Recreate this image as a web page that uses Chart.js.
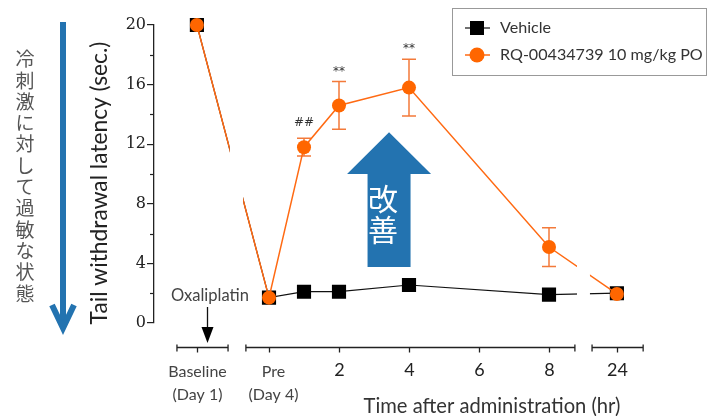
<!DOCTYPE html>
<html><head><meta charset="utf-8">
<script src="https://cdn.jsdelivr.net/npm/chart.js@4.4.1/dist/chart.umd.min.js"></script>
<style>html,body{margin:0;padding:0;background:#fff;}#wrap{width:708px;height:416px;}</style>
</head><body><div id="wrap"><canvas id="c" width="708" height="416"></canvas></div>
<script>
// ---- data ----
const timePoints = ['Baseline', 'Pre', 1, 2, 4, 8, 24];
const vehicleMean = [20, 1.7, 2.1, 2.1, 2.55, 1.9, 2.0];
const rqMean = [20, 1.7, 11.8, 14.6, 15.8, 5.1, 1.95];
const rqSem = [0, 0, 0.6, 1.6, 1.9, 1.3, 0];
const sigMarks = ['', '', '##', '**', '**', '', ''];
const seriesNames = ['Vehicle', 'RQ-00434739 10 mg/kg PO'];
const yMajorTicks = [0, 4, 8, 12, 16, 20];
const xTickLabels = ['Baseline', 'Pre', 2, 4, 6, 8, 24];
const xSubLabels = {'Baseline': '(Day 1)', 'Pre': '(Day 4)'};
const xTitle = 'Time after administration (hr)';
const yTitle = 'Tail withdrawal latency (sec.)';
const sideNote = '冷刺激に対して過敏な状態';
const arrowNote = '改善';
const doseNote = 'Oxaliplatin';

// ---- broken x axis: baseline and 24 h sit in their own short segments ----
function axisPos(t) {
  if (t === 'Baseline') return -2.06;
  if (t === 'Pre') return 0;
  if (t <= 8) return t;
  return 9.94; // 24 h after the break
}
const axisSegments = [[-2.63, -1.17], [-0.66, 8.74], [9.23, 10.69]];
const lineBreaks = [[-1.12, -0.74], [8.8, 9.17]];

const pts = arr => timePoints.map((t, i) => ({x: axisPos(t), y: arr[i]}));
const ORANGE = '#ff6a13';
const BLUE = '#2373b0';
const LAT = 'Lato, "Open Sans", sans-serif';

function fitFont(ctx, text, family, width, weight) {
  ctx.font = (weight || '') + ' 20px ' + family;
  const w = ctx.measureText(text).width;
  return (weight || '') + ' ' + (20 * width / w).toFixed(2) + 'px ' + family;
}

const decor = {
  id: 'decor',
  beforeDatasetsDraw(chart) {
    const {ctx, chartArea: a, scales: {x, y}} = chart;
    // error bars
    ctx.save();
    ctx.strokeStyle = '#f37a3a';
    ctx.lineWidth = 1.5;
    timePoints.forEach((t, i) => {
      if (!rqSem[i]) return;
      const px = x.getPixelForValue(axisPos(t));
      const top = y.getPixelForValue(rqMean[i] + rqSem[i]);
      const bot = y.getPixelForValue(rqMean[i] - rqSem[i]);
      ctx.beginPath();
      ctx.moveTo(px, top); ctx.lineTo(px, bot);
      ctx.moveTo(px - 7, top); ctx.lineTo(px + 7, top);
      ctx.moveTo(px - 7, bot); ctx.lineTo(px + 7, bot);
      ctx.stroke();
    });
    ctx.restore();
    // clip out the axis breaks for the lines
    ctx.save();
    ctx.beginPath();
    ctx.rect(0, 0, chart.width, chart.height);
    lineBreaks.forEach(([a0, a1]) => {
      const x0 = x.getPixelForValue(a0), x1 = x.getPixelForValue(a1);
      ctx.rect(x0, a.top - 20, x1 - x0, a.bottom - a.top + 40);
    });
    ctx.clip('evenodd');
  },
  afterDatasetsDraw(chart) {
    chart.ctx.restore();
  },
  afterDraw(chart) {
    const {ctx, chartArea: a, scales: {x, y}} = chart;
    ctx.save();
    // minor y ticks
    ctx.strokeStyle = '#222';
    ctx.lineWidth = 1.2;
    for (let v = 2; v < 20; v += 4) {
      const py = Math.round(y.getPixelForValue(v)) + 0.5;
      ctx.beginPath(); ctx.moveTo(a.left - 4, py); ctx.lineTo(a.left, py); ctx.stroke();
    }
    // y title
    ctx.save();
    ctx.translate(100, 183);
    ctx.rotate(-Math.PI / 2);
    ctx.font = fitFont(ctx, yTitle, LAT, 283);
    ctx.fillStyle = '#222';
    ctx.textAlign = 'center'; ctx.textBaseline = 'middle';
    ctx.fillText(yTitle, 0, 0);
    ctx.restore();

    // broken x axis
    const axY = 347.5;
    ctx.strokeStyle = '#222';
    ctx.lineWidth = 1.3;
    axisSegments.forEach(([s0, s1]) => {
      const x0 = x.getPixelForValue(s0), x1 = x.getPixelForValue(s1);
      ctx.beginPath();
      ctx.moveTo(x0, axY); ctx.lineTo(x1, axY);
      ctx.moveTo(x0, axY - 3); ctx.lineTo(x0, axY + 4);
      ctx.moveTo(x1, axY - 3); ctx.lineTo(x1, axY + 4);
      ctx.stroke();
    });
    xTickLabels.forEach(t => {
      const px = Math.round(x.getPixelForValue(axisPos(t))) + 0.5;
      ctx.beginPath(); ctx.moveTo(px, axY); ctx.lineTo(px, axY + 5); ctx.stroke();
      ctx.textAlign = 'center'; ctx.textBaseline = 'middle';
      if (typeof t === 'number') {
        ctx.font = '18px ' + LAT; ctx.fillStyle = '#222';
        ctx.fillText(String(t), px, 370);
      } else {
        ctx.font = '16px ' + LAT; ctx.fillStyle = '#444';
        const off = t === 'Pre' ? 4 : 0;
        ctx.fillText(t, px + off, 372);
        ctx.fillText(xSubLabels[t], px + off, 395);
      }
    });
    ctx.font = fitFont(ctx, xTitle, LAT, 257);
    ctx.fillStyle = '#333';
    ctx.textAlign = 'center'; ctx.textBaseline = 'middle';
    ctx.fillText(xTitle, 492, 406);

    // significance marks
    ctx.font = '12px "DejaVu Sans", sans-serif';
    ctx.fillStyle = '#333';
    timePoints.forEach((t, i) => {
      if (!sigMarks[i]) return;
      const px = x.getPixelForValue(axisPos(t));
      const py = y.getPixelForValue(rqMean[i] + rqSem[i]);
      ctx.fillText(sigMarks[i], px, py - (sigMarks[i] === '##' ? 15 : 10));
    });

    // oxaliplatin note + arrow
    ctx.font = fitFont(ctx, doseNote, LAT, 78);
    ctx.fillStyle = '#444';
    ctx.fillText(doseNote, 210, 296);
    const bx = Math.round(x.getPixelForValue(axisPos('Baseline'))) + 10.5;
    ctx.strokeStyle = '#111'; ctx.lineWidth = 1.3;
    ctx.beginPath(); ctx.moveTo(bx, 307); ctx.lineTo(bx, 330); ctx.stroke();
    ctx.fillStyle = '#000';
    ctx.beginPath(); ctx.moveTo(bx - 6, 327); ctx.lineTo(bx + 6, 327); ctx.lineTo(bx, 343); ctx.closePath(); ctx.fill();

    // big "improvement" arrow
    const ax = x.getPixelForValue(3.43);
    const tipY = y.getPixelForValue(12.8), headY = y.getPixelForValue(10.0), baseY = y.getPixelForValue(3.76);
    ctx.fillStyle = BLUE;
    ctx.beginPath();
    ctx.moveTo(ax, tipY);
    ctx.lineTo(ax + 42, headY); ctx.lineTo(ax + 21.5, headY); ctx.lineTo(ax + 21.5, baseY);
    ctx.lineTo(ax - 21.5, baseY); ctx.lineTo(ax - 21.5, headY); ctx.lineTo(ax - 42, headY);
    ctx.closePath(); ctx.fill();
    ctx.fillStyle = '#fff';
    ctx.font = '30px "Noto Sans CJK JP"';
    ctx.textAlign = 'center'; ctx.textBaseline = 'middle';
    [...arrowNote].forEach((ch, k) => ctx.fillText(ch, ax - 6, 199 + k * 31));

    // left vertical note and down arrow
    ctx.font = '19px "Noto Sans CJK JP"';
    ctx.fillStyle = '#555';
    [...sideNote].forEach((ch, k) => ctx.fillText(ch, 25, 59 + k * 21.3));
    ctx.strokeStyle = BLUE; ctx.lineWidth = 6; ctx.lineCap = 'butt'; ctx.lineJoin = 'miter';
    ctx.beginPath(); ctx.moveTo(63, 22); ctx.lineTo(63, 326); ctx.stroke();
    ctx.beginPath(); ctx.moveTo(52, 305); ctx.lineTo(63, 328); ctx.lineTo(74, 305); ctx.stroke();

    // legend
    ctx.strokeStyle = '#999'; ctx.lineWidth = 1;
    ctx.strokeRect(452.5, 8.5, 254, 67);
    const lf = fitFont(ctx, seriesNames[1], LAT, 203);
    chart.data.datasets.forEach((ds, k) => {
      const ly = 28 + k * 27;
      ctx.strokeStyle = ds.borderColor; ctx.lineWidth = ds.borderWidth;
      ctx.beginPath(); ctx.moveTo(465, ly); ctx.lineTo(490, ly); ctx.stroke();
      ctx.fillStyle = ds.pointBackgroundColor;
      if (ds.pointStyle === 'rect') ctx.fillRect(470, ly - 7, 14, 14);
      else { ctx.beginPath(); ctx.arc(477, ly, 7.5, 0, Math.PI * 2); ctx.fill(); }
      ctx.font = lf; ctx.fillStyle = '#333';
      ctx.textAlign = 'left'; ctx.textBaseline = 'middle';
      ctx.fillText(ds.label, 500, ly);
    });
    ctx.restore();
  }
};

new Chart(document.getElementById('c').getContext('2d'), {
  type: 'line',
  data: {
    datasets: [
      {label: seriesNames[0], data: pts(vehicleMean), borderColor: '#111', borderWidth: 1.2,
       pointStyle: 'rect', pointRadius: 10, pointBackgroundColor: '#000', pointBorderColor: '#000',
       pointBorderWidth: 0, order: 2, clip: false, tension: 0},
      {label: seriesNames[1], data: pts(rqMean), borderColor: ORANGE, borderWidth: 1.5,
       pointStyle: 'circle', pointRadius: 7, pointBackgroundColor: '#ff6600', pointBorderColor: '#ff6600',
       pointBorderWidth: 0, order: 1, clip: false, tension: 0}
    ]
  },
  options: {
    responsive: false, animation: false, devicePixelRatio: 1,
    layout: {padding: {top: 25, bottom: 93, right: 48, left: 0}},
    plugins: {legend: {display: false}, tooltip: {enabled: false}},
    scales: {
      x: {type: 'linear', min: (154 - 269) / 35, max: (660 - 269) / 35, display: false},
      y: {
        min: 0, max: 20,
        afterFit: s => { s.width = 154; },
        ticks: {stepSize: 2, callback: v => yMajorTicks.includes(v) ? String(v) : '',
                font: {family: 'DejaVu Serif', size: 16}, color: '#222', padding: 1},
        grid: {drawOnChartArea: false, tickLength: 7, lineWidth: 1.2,
               color: c => (c.tick && yMajorTicks.includes(c.tick.value)) ? '#222' : 'rgba(0,0,0,0)'},
        border: {color: '#222', width: 1.3}
      }
    }
  },
  plugins: [decor]
});
</script></body></html>
